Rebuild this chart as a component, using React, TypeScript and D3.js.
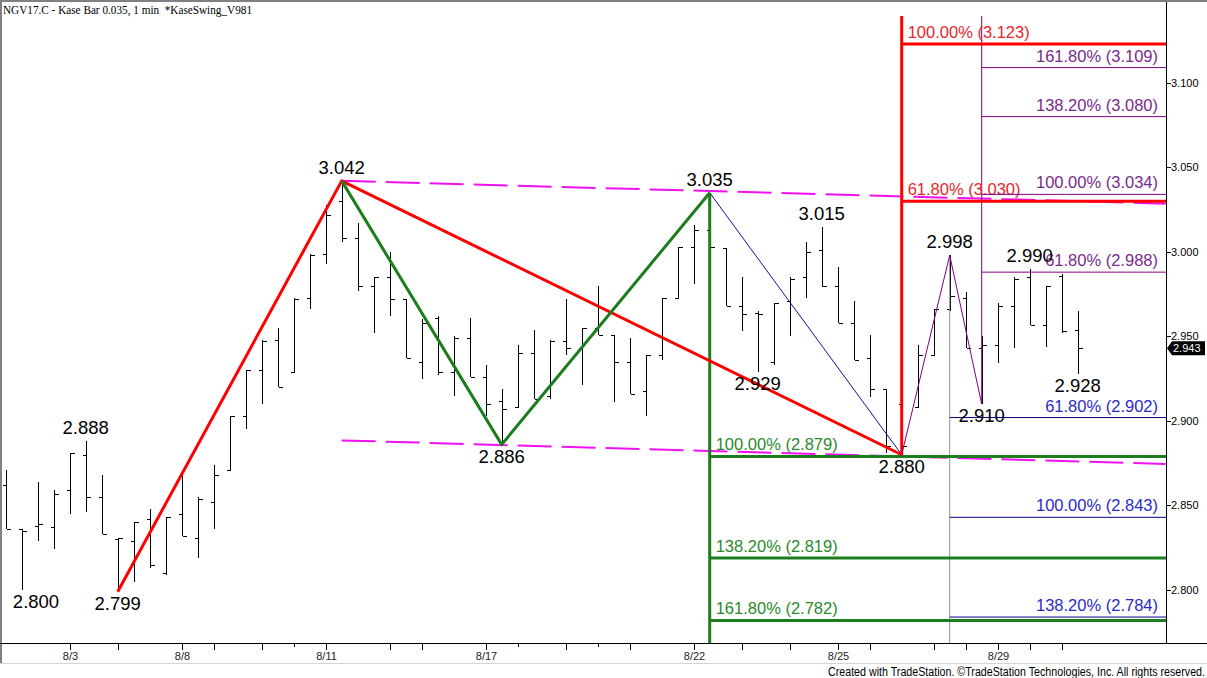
import * as d3 from 'd3'

// OHLC of the Kase bars, one entry per bar
const barOpen = [
  2.862, 2.836, 2.838, 2.837, 2.859, 2.880, 2.855, 2.830, 2.829, 2.842,
  2.810, 2.845, 2.831, 2.852, 2.871, 2.903, 2.930, 2.948, 2.929, 2.973,
  2.999, 3.030, 3.008, 2.980, 2.985, 2.972, 2.935, 2.961, 2.929, 2.949,
  2.926, 2.912, 2.908, 2.940, 2.915, 2.947, 2.943, 2.955, 2.951, 2.935,
  2.918, 2.939, 2.973, 3.003, 3.013, 3.002, 2.968, 2.964, 2.935, 2.971,
  2.985, 3.001, 2.980, 2.958, 2.937, 2.919, 2.910, 2.908, 2.939, 2.966,
  2.973, 2.943, 2.945, 2.968, 2.985, 2.957, 2.986, 2.954,
]
const barHigh = [
  2.871, 2.836, 2.864, 2.859, 2.881, 2.888, 2.868, 2.831, 2.840, 2.848,
  2.843, 2.868, 2.855, 2.874, 2.903, 2.930, 2.948, 2.955, 2.973, 2.999,
  3.028, 3.042, 3.017, 2.985, 3.000, 2.972, 2.960, 2.962, 2.950, 2.961,
  2.933, 2.919, 2.945, 2.954, 2.948, 2.972, 2.955, 2.980, 2.951, 2.949,
  2.939, 2.973, 3.003, 3.016, 3.035, 3.002, 2.985, 2.965, 2.970, 2.985,
  3.006, 3.015, 2.991, 2.971, 2.951, 2.919, 2.912, 2.945, 2.966, 2.998,
  2.976, 2.950, 2.970, 2.985, 2.990, 2.980, 2.987, 2.965,
]
const barLow = [
  2.836, 2.800, 2.829, 2.824, 2.845, 2.846, 2.833, 2.799, 2.805, 2.813,
  2.809, 2.832, 2.819, 2.836, 2.871, 2.895, 2.910, 2.920, 2.929, 2.966,
  2.993, 3.006, 2.977, 2.952, 2.962, 2.937, 2.925, 2.927, 2.915, 2.926,
  2.903, 2.886, 2.908, 2.913, 2.913, 2.939, 2.921, 2.951, 2.911, 2.916,
  2.903, 2.936, 2.972, 2.981, 2.998, 2.968, 2.953, 2.929, 2.933, 2.950,
  2.973, 2.979, 2.958, 2.936, 2.914, 2.881, 2.880, 2.908, 2.939, 2.965,
  2.943, 2.910, 2.934, 2.943, 2.957, 2.944, 2.952, 2.928,
]
const barClose = [
  2.836, 2.835, 2.839, 2.857, 2.881, 2.855, 2.833, 2.831, 2.840, 2.815,
  2.843, 2.832, 2.854, 2.868, 2.903, 2.930, 2.947, 2.920, 2.972, 2.998,
  3.022, 3.008, 2.980, 2.985, 2.972, 2.937, 2.958, 2.929, 2.949, 2.926,
  2.910, 2.907, 2.940, 2.913, 2.947, 2.943, 2.955, 2.951, 2.935, 2.916,
  2.939, 2.973, 3.003, 3.013, 3.003, 2.968, 2.963, 2.963, 2.970, 2.984,
  3.000, 2.980, 2.958, 2.936, 2.919, 2.885, 2.885, 2.939, 2.966, 2.974,
  2.943, 2.945, 2.968, 2.984, 2.957, 2.980, 2.953, 2.943,
]

// date axis: bar index of each tick, label ('' = unlabelled), short tick flag
const dateTickBars = [4, 7, 11, 13, 16, 18, 20, 24, 26, 30, 32, 35, 37, 39, 43, 46, 49, 52, 54, 58, 60, 62, 64, 66]
const dateTickLabels: Record<number, string> = { 4: '8/3', 11: '8/8', 20: '8/11', 30: '8/17', 43: '8/22', 52: '8/25', 62: '8/29' }
const shortTickBars = [18, 32, 37]

const priceTicks = [2.8, 2.85, 2.9, 2.95, 3.0, 3.05, 3.1]

// swing points: bar index, price, whether it is a high
const swingBars = [1, 5, 7, 21, 31, 44, 51, 47, 56, 59, 61, 64, 67]
const swingPrices = [2.8, 2.888, 2.799, 3.042, 2.886, 3.035, 3.015, 2.929, 2.88, 2.998, 2.91, 2.99, 2.928]
const swingIsHigh = [false, true, false, true, false, true, true, false, false, true, false, true, false]

// zigzags
const redSwing = [[7, 2.799], [21, 3.042], [56, 2.88]]
const greenSwing = [[21, 3.042], [31, 2.886], [44, 3.035]]
const blueSwing = [[44, 3.035], [56, 2.88]]
const purpleSwing = [[56, 2.88], [59, 2.998], [61, 2.91]]

// channel (dashed magenta), start and end points
const channelUpper = [[21, 3.042], [72.5, 3.0285]]
const channelLower = [[21, 2.8885], [72.5, 2.8745]]

// projection levels
const redPct = ['100.00%', '61.80%']
const redVals = [3.123, 3.03]
const greenPct = ['100.00%', '138.20%', '161.80%']
const greenVals = [2.879, 2.819, 2.782]
const purplePct = ['161.80%', '138.20%', '100.00%', '61.80%']
const purpleVals = [3.109, 3.08, 3.034, 2.988]
const bluePct = ['61.80%', '100.00%', '138.20%']
const blueVals = [2.902, 2.843, 2.784]

const lastPrice = 2.943

const W = 1207
const H = 678
const AXIS_X = 1166
const AXIS_Y = 643
const V_TOP = 16

const SANS = '"Liberation Sans", Arial, sans-serif'

export default function App() {
  const x = d3.scaleLinear().domain([0, 67]).range([5.7, 1077.7])
  const y = d3.scaleLinear().domain([2.8, 3.1]).range([590, 82.8])
  const line = d3.line<number[]>().x(d => x(d[0])).y(d => y(d[1]))

  const fib = (origin: number, pct: string[], vals: number[], color: string, textColor: string, width: number, anchorRight: boolean, key: string) => (
    <g key={key}>
      {vals.map((v, k) => (
        <g key={k}>
          <line x1={x(origin)} x2={AXIS_X} y1={y(v)} y2={y(v)} stroke={color} strokeWidth={width} />
          <text
            x={anchorRight ? AXIS_X - 8 : x(origin) + 6}
            y={y(v) - 6}
            textAnchor={anchorRight ? 'end' : 'start'}
            fill={textColor}
            fontSize={16.5}
            fontFamily={SANS}
          >
            {`${pct[k]} (${v.toFixed(3)})`}
          </text>
        </g>
      ))}
    </g>
  )

  const yl = y(lastPrice)

  return (
    <div style={{ position: 'absolute', left: 0, top: 0 }}>
      <svg width={W} height={H} style={{ display: 'block', background: '#fff' }}>
        <rect x={0} y={0} width={W} height={H} fill="#fff" />

        {/* frame */}
        <line x1={0} x2={W} y1={1} y2={1} stroke="#808080" strokeWidth={2} />
        <line x1={1} x2={1} y1={0} y2={663} stroke="#808080" strokeWidth={2} />
        <line x1={0} x2={W} y1={663.5} y2={663.5} stroke="#d4d4d4" strokeWidth={1} />

        {/* channel */}
        <path d={line(channelUpper as number[][]) || ''} fill="none" stroke="#f010f0" strokeWidth={2} strokeDasharray="34,10" />
        <path d={line(channelLower as number[][]) || ''} fill="none" stroke="#f010f0" strokeWidth={2} strokeDasharray="34,10" />

        {/* bars */}
        <g stroke="#000" strokeWidth={1} shapeRendering="crispEdges">
          {barOpen.map((o, i) => {
            const cx = Math.round(x(i)) + 0.5
            return (
              <g key={i}>
                <line x1={cx} x2={cx} y1={y(barHigh[i])} y2={y(barLow[i])} />
                <line x1={cx - 4} x2={cx} y1={Math.round(y(o)) + 0.5} y2={Math.round(y(o)) + 0.5} />
                <line x1={cx} x2={cx + 4} y1={Math.round(y(barClose[i])) + 0.5} y2={Math.round(y(barClose[i])) + 0.5} />
              </g>
            )
          })}
        </g>

        {/* projection verticals */}
        <line x1={x(59)} x2={x(59)} y1={y(2.998)} y2={AXIS_Y} stroke="#909090" strokeWidth={1} />
        <line x1={x(61)} x2={x(61)} y1={V_TOP} y2={y(2.91)} stroke="#800080" strokeWidth={1} />
        <line x1={x(44)} x2={x(44)} y1={y(3.035)} y2={AXIS_Y} stroke="#1b7d1b" strokeWidth={3} />
        <line x1={x(56)} x2={x(56)} y1={V_TOP} y2={y(2.88)} stroke="#f00" strokeWidth={3} />

        {/* projection levels */}
        {fib(44, greenPct, greenVals, '#1b7d1b', '#2a8a2a', 3, false, 'g')}
        {fib(56, redPct, redVals, '#f00', '#e8262b', 3, false, 'r')}
        {fib(61, purplePct, purpleVals, '#800080', '#7a2a8a', 1, true, 'p')}
        {fib(59, bluePct, blueVals, '#000080', '#2a2ac8', 1, true, 'b')}

        {/* zigzags */}
        <path d={line(blueSwing as number[][]) || ''} fill="none" stroke="#1010a0" strokeWidth={1} />
        <path d={line(purpleSwing as number[][]) || ''} fill="none" stroke="#800080" strokeWidth={1} />
        <path d={line(redSwing as number[][]) || ''} fill="none" stroke="#f00" strokeWidth={3} strokeLinejoin="round" />
        <path d={line(greenSwing as number[][]) || ''} fill="none" stroke="#1b7d1b" strokeWidth={3} strokeLinejoin="round" />

        {/* swing labels (kept clear of the left edge) */}
        {swingBars.map((b, k) => (
          <text
            key={k}
            x={Math.max(x(b), 36)}
            y={swingIsHigh[k] ? y(swingPrices[k]) - 7 : y(swingPrices[k]) + 18}
            textAnchor="middle"
            fontSize={18.5}
            fontFamily={SANS}
            fill="#000"
          >
            {swingPrices[k].toFixed(3)}
          </text>
        ))}

        {/* right price axis */}
        <line x1={AXIS_X + 0.5} x2={AXIS_X + 0.5} y1={2} y2={AXIS_Y} stroke="#000" strokeWidth={1} />
        {priceTicks.map(p => (
          <g key={p}>
            <line x1={AXIS_X} x2={AXIS_X + 5} y1={Math.round(y(p)) + 0.5} y2={Math.round(y(p)) + 0.5} stroke="#000" />
            <text x={AXIS_X + 5} y={y(p)} dy="0.35em" fontSize={11} fontFamily={SANS} fill="#000">
              {p.toFixed(3)}
            </text>
          </g>
        ))}
        <path
          d={`M${AXIS_X + 1},${yl} L${AXIS_X + 6},${yl - 7} L${W - 2},${yl - 7} L${W - 2},${yl + 7} L${AXIS_X + 6},${yl + 7} Z`}
          fill="#000"
        />
        <text x={AXIS_X + 7} y={yl} dy="0.36em" fontSize={11} fontFamily={SANS} fill="#fff">
          {lastPrice.toFixed(3)}
        </text>

        {/* date axis */}
        <line x1={0} x2={W} y1={AXIS_Y + 0.5} y2={AXIS_Y + 0.5} stroke="#000" strokeWidth={1} />
        {dateTickBars.map(b => {
          const tx = Math.round(x(b)) + 0.5
          return (
            <g key={b}>
              <line x1={tx} x2={tx} y1={AXIS_Y} y2={AXIS_Y + (shortTickBars.includes(b) ? 4 : 7)} stroke="#000" />
              {dateTickLabels[b] && (
                <text x={tx} y={660} textAnchor="middle" fontSize={11} fontFamily={SANS} fill="#222">
                  {dateTickLabels[b]}
                </text>
              )}
            </g>
          )
        })}

        {/* title and footer */}
        <text
          x={3}
          y={14}
          fontSize={12.5}
          fontFamily='"Liberation Serif", "Times New Roman", serif'
          fill="#000"
          textLength={249}
          lengthAdjust="spacingAndGlyphs"
          style={{ whiteSpace: 'pre' }}
        >
          {'NGV17.C - Kase Bar 0.035, 1 min  *KaseSwing_V981'}
        </text>
        <text
          x={W - 2}
          y={676}
          textAnchor="end"
          fontSize={12}
          fontFamily={SANS}
          fill="#000"
          textLength={377}
          lengthAdjust="spacingAndGlyphs"
        >
          Created with TradeStation. ©TradeStation Technologies, Inc. All rights reserved.
        </text>
      </svg>
    </div>
  )
}
